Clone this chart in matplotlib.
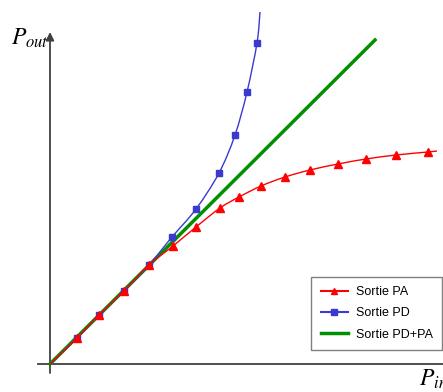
import matplotlib
matplotlib.use("Agg")
import matplotlib.pyplot as plt
from matplotlib.path import Path
from matplotlib.patches import PathPatch
import numpy as np

plt.rcParams['mathtext.fontset'] = 'stix'

# Data (units arbitrary)
pa_x = [0, 27, 49, 74, 99, 123, 146, 170, 189, 211, 235, 260, 288, 316, 346, 378, 387]
pa_y = [0, 26, 49, 73, 99, 118, 137, 156, 167, 178, 187, 194, 200, 205, 209, 212, 213]
pa_marked = list(range(1, 16))

pd_x = [0, 27, 49, 74, 99, 122, 146, 169, 185, 197, 207, 210]
pd_y = [0, 26, 49, 73, 99, 127, 155, 191, 229, 272, 321, 352]
pd_marked = list(range(1, 11))

lin_x = [0, 325]
lin_y = [0, 324]

labels = ["Sortie PA", "Sortie PD", "Sortie PD+PA"]

fig = plt.figure(figsize=(4.43, 3.92), dpi=100)
ax = fig.add_axes([0, 0, 1, 1])
ax.set_xlim(-50, 393)
ax.set_ylim(-28, 364)
ax.axis('off')

# axes
ax.plot([-12, 393], [0, 0], color='#404040', lw=1.3, zorder=1)
ax.annotate('', xy=(0, 332), xytext=(0, -9),
            arrowprops=dict(arrowstyle='-|>', color='#404040', lw=1.3,
                            mutation_scale=12, shrinkA=0, shrinkB=0), zorder=1)

def smooth(xs, ys):
    pts = np.column_stack([xs, ys]).astype(float)
    verts = [pts[0]]
    codes = [Path.MOVETO]
    n = len(pts)
    for i in range(n - 1):
        p0 = pts[i - 1] if i > 0 else pts[i]
        p1 = pts[i]
        p2 = pts[i + 1]
        p3 = pts[i + 2] if i + 2 < n else pts[i + 1]
        c1 = p1 + (p2 - p0) / 6.0
        c2 = p2 - (p3 - p1) / 6.0
        verts += [c1, c2, p2]
        codes += [Path.CURVE4] * 3
    return Path(verts, codes)

red = '#ff0000'
blue = '#3a3ad0'
green = '#009000'

ax.plot(lin_x, lin_y, color=green, lw=2.5, zorder=2, label=labels[2])

ax.add_patch(PathPatch(smooth(pd_x, pd_y), fill=False, edgecolor=blue, lw=1.0, zorder=3))
ax.plot([pd_x[i] for i in pd_marked], [pd_y[i] for i in pd_marked], ls='none',
        marker='s', ms=4.5, color=blue, zorder=4)

ax.add_patch(PathPatch(smooth(pa_x, pa_y), fill=False, edgecolor=red, lw=1.0, zorder=5))
ax.plot([pa_x[i] for i in pa_marked], [pa_y[i] for i in pa_marked], ls='none',
        marker='^', ms=6, color=red, zorder=6)

# legend proxies
h1, = ax.plot([], [], color=red, lw=1.5, marker='^', ms=5)
h2, = ax.plot([], [], color=blue, lw=1.5, marker='s', ms=4)
h3, = ax.plot([], [], color=green, lw=2.5)
leg = fig.legend([h1, h2, h3], labels, loc='lower right',
                 bbox_to_anchor=(442/443, 1 - 350/392),
                 prop={'family': 'Liberation Sans', 'size': 9},
                 fancybox=False, framealpha=1, edgecolor='#808080',
                 handlelength=2.2, borderpad=0.75, labelspacing=0.75,
                 handletextpad=0.6, borderaxespad=0)
leg.get_frame().set_linewidth(1.0)

fig.text(11/443, 1 - 45/392, r'$P_{out}$', fontsize=17, ha='left', va='baseline')
fig.text(419/443, 1 - 386/392, r'$P_{in}$', fontsize=17, ha='left', va='baseline')

fig.savefig('out.png', dpi=100)
